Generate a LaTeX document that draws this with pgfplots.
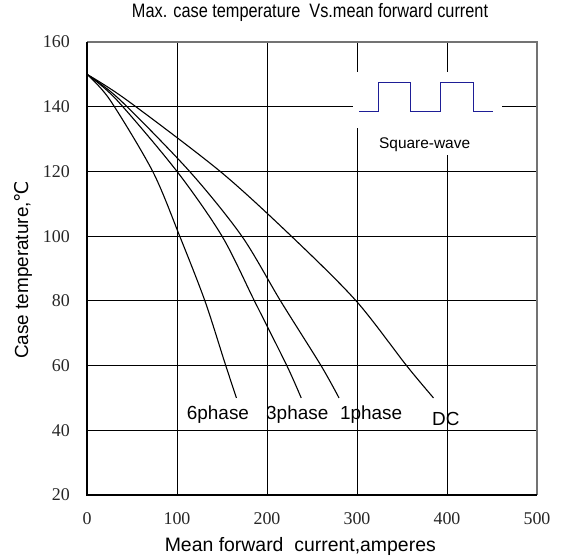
\documentclass[border=0pt]{standalone}
\usepackage{fontspec}
\setmainfont{Liberation Serif}
\newfontfamily\arial{Liberation Sans}
\newfontfamily\narrow[FakeStretch=0.84]{Liberation Sans}
\newfontfamily\dejavu{DejaVu Sans}
\usepackage{pgfplots}
\pgfplotsset{compat=1.18}
\definecolor{wave}{RGB}{30,30,150}
\begin{document}
\begin{tikzpicture}[x=1bp,y=1bp]
\path[use as bounding box] (0,0) rectangle (563,558);
\begin{axis}[
  at={(87bp,63bp)}, anchor=south west,
  scale only axis, width=450bp, height=453bp,
  xmin=0, xmax=500, ymin=20, ymax=160,
  xtick={0,100,...,500}, ytick={20,40,...,160},
  grid=major, major grid style={black, line width=1bp},
  major tick length=0pt,
  axis line style={draw=none},
  clip=false,
  /pgf/number format/assume math mode=true,
  tick label style={font=\fontsize{18}{20}\selectfont, text=black!85},
  yticklabel style={anchor=east, inner sep=0pt, xshift=-17bp},
  xticklabel style={anchor=north, inner sep=0pt, yshift=-17bp},
  title={Max. case temperature\ \ Vs.mean forward current},
  title style={at={(axis description cs:0.4956,1.0413)}, anchor=base, inner sep=0pt,
    font=\narrow\fontsize{19.5}{22}\selectfont},
  xlabel={Mean forward\ \ current,amperes},
  xlabel style={at={(axis description cs:0.474,-0.1258)}, anchor=base, inner sep=0pt,
    font=\arial\fontsize{19.5}{22}\selectfont},
  ylabel={Case temperature,{\dejavu ℃}},
  ylabel style={at={(axis description cs:-0.131,0.497)}, anchor=base, inner sep=0pt,
    font=\arial\fontsize{19}{22}\selectfont},
]
% white boxes behind the inset
\fill[white] (axis cs:295.6,133.3) rectangle (axis cs:461,150.8);
\fill[white] (axis cs:310,125.1) rectangle (axis cs:455,133.3);

% curves
\addplot[black, line width=1.1bp, smooth] coordinates {
 (0,150) (25.5,142.1) (73,120) (103,100) (131,80) (153,61) (166,50)};
\addplot[black, line width=1.1bp, smooth] coordinates {
 (0,150) (33,142.1) (100,120) (150,100) (186,80) (222,60) (238,50)};
\addplot[black, line width=1.1bp, smooth] coordinates {
 (0,150) (36.7,142.1) (114,120) (172,100) (215,80) (260,60) (280,50)};
\addplot[black, line width=1.1bp, smooth] coordinates {
 (0,150) (44,142.1) (148,120) (227,100) (299,80) (355,60) (385,50)};

% square wave inset
\addplot[wave, line width=1bp] coordinates {
 (302.6,138.5) (324.4,138.5) (324.4,147.5) (359.7,147.5) (359.7,138.5)
 (393.3,138.5) (393.3,147.5) (429.2,147.5) (429.2,138.5) (450.8,138.5)};
\node[anchor=base west, inner sep=0pt, font=\arial\fontsize{15.5}{18}\selectfont]
  at (axis cs:324.4,127.2) {Square-wave};

% labels
\node[anchor=base west, inner sep=0pt, font=\arial\fontsize{19}{22}\selectfont] at (axis cs:110.8,43.2) {6phase};
\node[anchor=base west, inner sep=0pt, font=\arial\fontsize{19}{22}\selectfont] at (axis cs:198.9,43.2) {3phase};
\node[anchor=base west, inner sep=0pt, font=\arial\fontsize{19}{22}\selectfont] at (axis cs:281,43.2) {1phase};
\node[anchor=base west, inner sep=0pt, font=\arial\fontsize{19}{22}\selectfont] at (axis cs:383.3,41.6) {DC};

% frame
\draw[black!55, line width=2bp] (rel axis cs:0,1) -- (rel axis cs:1,1) -- (rel axis cs:1,0);
\draw[black, line width=2bp] (rel axis cs:0,1) -- (rel axis cs:0,0) -- (rel axis cs:1,0);
\end{axis}
\end{tikzpicture}
\end{document}
